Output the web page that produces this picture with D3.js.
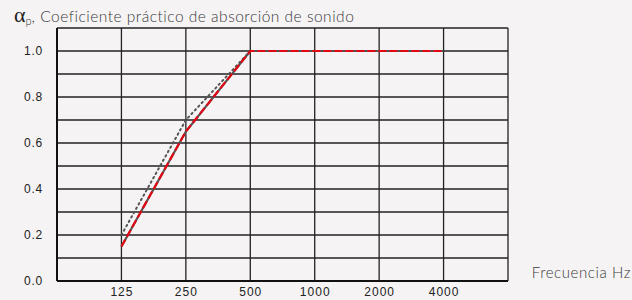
<!DOCTYPE html>
<html>
<head>
<meta charset="utf-8">
<script src="https://cdn.jsdelivr.net/npm/d3@7"></script>
<style>
body { margin: 0; background: #f5f3f4; }
svg { display: block; font-family: Lato, "Open Sans", sans-serif; }
</style>
</head>
<body>
<svg id="chart" width="632" height="300"></svg>
<script>
var frequencies = ["125", "250", "500", "1000", "2000", "4000"];
var seriesSolid = [0.15, 0.65, 1.0, 1.0, 1.0, 1.0];
var seriesDotted = [0.2, 0.7, 1.0];
var yTicks = [0.0, 0.2, 0.4, 0.6, 0.8, 1.0];

var svg = d3.select("#chart");
var margin = { left: 57, right: 124, top: 28, bottom: 19 };
var width = 632 - margin.left - margin.right;
var height = 300 - margin.top - margin.bottom;

var g = svg.append("g").attr("transform", "translate(" + margin.left + "," + margin.top + ")");

// slot 0 is empty, frequencies sit on slots 1..6, right edge is slot 7
var xscale = d3.scaleLinear().domain([0, 7]).range([0, width]);
var yscale = d3.scaleLinear().domain([0, 1.1]).range([height, 0]);

// grid
g.selectAll(".hgrid")
	.data(d3.range(1, 12).map(function(i) { return i / 10; }))
	.enter()
	.append("line")
	.attr("x1", 0).attr("x2", width)
	.attr("y1", function(d) { return yscale(d); })
	.attr("y2", function(d) { return yscale(d); })
	.attr("stroke", "#222").attr("stroke-width", 1.3);

g.selectAll(".vgrid")
	.data(d3.range(1, 8))
	.enter()
	.append("line")
	.attr("y1", 0).attr("y2", height)
	.attr("x1", function(d) { return xscale(d); })
	.attr("x2", function(d) { return xscale(d); })
	.attr("stroke", "#222").attr("stroke-width", 1.3);

// axes
g.append("line").attr("x1", 0).attr("x2", 0).attr("y1", 0).attr("y2", height)
	.attr("stroke", "#111").attr("stroke-width", 2);
g.append("line").attr("x1", 0).attr("x2", width).attr("y1", height).attr("y2", height)
	.attr("stroke", "#111").attr("stroke-width", 2);

var yAxis = d3.axisLeft(yscale).tickValues(yTicks).tickSize(0).tickPadding(14)
	.tickFormat(d3.format(".1f"));
g.append("g").call(yAxis)
	.call(function(a) { a.select(".domain").remove(); })
	.selectAll("text").attr("font-size", 12).attr("font-weight", 300)
	.attr("letter-spacing", 0.8).attr("fill", "#222");

var xAxis = d3.axisBottom(xscale).tickValues(d3.range(1, 7)).tickSize(0).tickPadding(6)
	.tickFormat(function(d) { return frequencies[d - 1]; });
g.append("g").attr("transform", "translate(0," + height + ")").call(xAxis)
	.call(function(a) { a.select(".domain").remove(); })
	.selectAll("text").attr("font-size", 12).attr("font-weight", 300)
	.attr("letter-spacing", 1).attr("fill", "#222");

var line = d3.line()
	.x(function(d, i) { return xscale(i + 1); })
	.y(function(d) { return yscale(d); });

g.append("path").datum(seriesDotted).attr("d", line)
	.attr("fill", "none").attr("stroke", "#555").attr("stroke-width", 2)
	.attr("stroke-dasharray", "1.5,3.5").attr("stroke-linecap", "round");

g.append("path").datum(seriesSolid).attr("d", line)
	.attr("fill", "none").attr("stroke", "#555").attr("stroke-width", 2.2);

g.append("path").datum(seriesSolid).attr("d", line)
	.attr("fill", "none").attr("stroke", "#e30613").attr("stroke-width", 2.2)
	.attr("stroke-dasharray", "8,3");

// titles
var title = svg.append("text").attr("x", 14).attr("y", 22).attr("fill", "#3a3a3a")
	.attr("font-size", 15.5).attr("font-weight", 300);
title.append("tspan").text("α").attr("font-size", 22).attr("fill", "#222")
	.attr("font-family", "'Liberation Serif', serif").attr("font-weight", 400);
title.append("tspan").text("p").attr("font-size", 11).attr("dy", 3);
title.append("tspan").text(", Coeficiente práctico de absorción de sonido").attr("dy", -3)
	.attr("letter-spacing", 0.5);

svg.append("text").attr("x", 631).attr("y", 278).attr("text-anchor", "end")
	.attr("font-size", 15).attr("font-weight", 300).attr("letter-spacing", 0.6)
	.attr("fill", "#3a3a3a").text("Frecuencia Hz");
</script>
</body>
</html>
